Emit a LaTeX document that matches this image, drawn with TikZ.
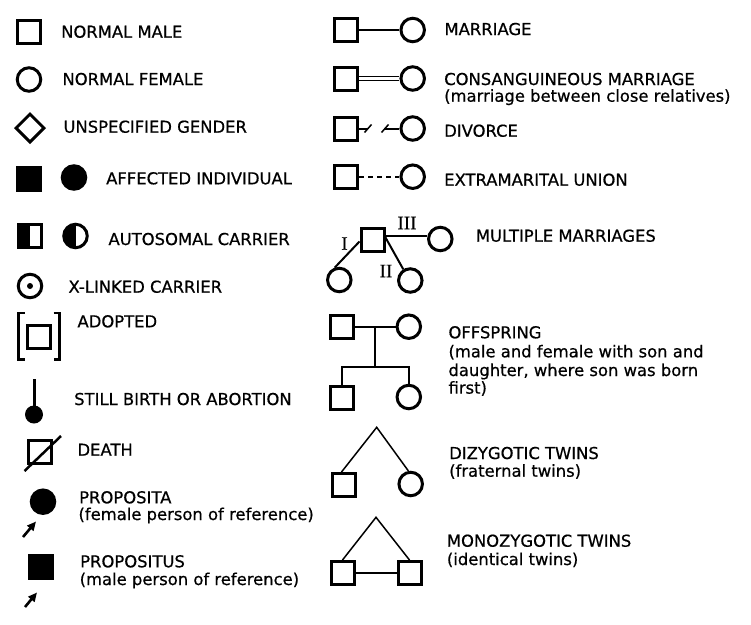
\documentclass[tikz,border=0pt]{standalone}
\usepackage{fontspec}
\setmainfont{DejaVu Sans}[FakeBold=0.6]
\newfontfamily\romanfont{Liberation Serif}[FakeBold=0.4]
\usetikzlibrary{shapes.geometric,arrows.meta}
\begin{document}
\begin{tikzpicture}[x=1pt,y=-1pt,
  male/.style={draw, rectangle, minimum size=23pt, inner sep=0pt, line width=3pt},
  female/.style={draw, circle, minimum size=23.5pt, inner sep=0pt, line width=3pt},
  filled/.style={fill=black},
  halffill/.style={path picture={\fill[black] (path picture bounding box.north west) rectangle (path picture bounding box.south);}},
  lbl/.style={anchor=base west, inner sep=0pt, font=\fontsize{16.4pt}{18pt}\selectfont},
  roman/.style={inner sep=0pt, font=\romanfont\fontsize{19pt}{19pt}\selectfont},
  link/.style={line width=2pt},
  twin/.style={line width=1.5pt},
  parr/.style={-{Triangle[length=9pt,width=8pt]}, line width=2.6pt}
]
\useasboundingbox[fill=white] (0,0) rectangle (751,624);

% ---------- left column ----------
\node[male] (nm) at (29,31.5) {};
\node[lbl] (tnm) at (61,37.7) {NORMAL MALE};

\node[female] (nf) at (29,79.5) {};
\node[lbl] (tnf) at (62.3,85) {NORMAL FEMALE};

\node[draw, diamond, minimum width=29pt, minimum height=29pt, inner sep=0pt, line width=3pt] (ug) at (30,128) {};
\node[lbl] (tug) at (63.3,132.7) {UNSPECIFIED GENDER};

\node[male, filled] (am) at (29,178.5) {};
\node[female, filled] (af) at (74,177.5) {};
\node[lbl] (taf) at (106,184.3) {AFFECTED INDIVIDUAL};

\node[male, halffill] (cm) at (29.5,235.5) {};
\node[female, halffill] (cf) at (75.5,236) {};
\node[lbl] (tcf) at (108.3,245) {AUTOSOMAL CARRIER};

\node[female] (xl) at (30,286) {};
\fill (xl.center) circle[radius=3pt];
\node[lbl] (txl) at (68.3,292.7) {X-LINKED CARRIER};

\node[male] (ad) at (39,337) {};
\draw[line width=2.5pt] (24.5,313) -- (18.3,313) -- (18.3,359.5) -- (24.5,359.5);
\draw[line width=2.5pt] (53.5,313) -- (59.5,313) -- (59.5,359.5) -- (53.5,359.5);
\node[lbl] (tad) at (77.3,327.3) {ADOPTED};

\node[circle, fill=black, minimum size=18pt, inner sep=0pt] (sb) at (34,414.5) {};
\coordinate (sbtop) at (34,379);
\draw[line width=3pt] (sbtop) -- (sb.center);
\node[lbl] (tsb) at (74,405) {STILL BIRTH OR ABORTION};

\node[male] (de) at (40,452) {};
\coordinate (de1) at (24.5,471);
\coordinate (de2) at (61,436);
\draw[line width=2.5pt] (de1) -- (de2);
\node[lbl] (tde) at (77.3,455.7) {DEATH};

\node[female, filled] (pa) at (43,501.7) {};
\coordinate (pa1) at (23,537);
\coordinate (pa2) at (36,521.5);
\draw[parr] (pa1) -- (pa2);
\node[lbl] (tpa1) at (79,503.3) {PROPOSITA};
\node[lbl] (tpa2) at (78.3,520) {(female person of reference)};

\node[male, filled] (pu) at (41,566.7) {};
\coordinate (pu1) at (25,607);
\coordinate (pu2) at (37,592.5);
\draw[parr] (pu1) -- (pu2);
\node[lbl] (tpu1) at (80,567.3) {PROPOSITUS};
\node[lbl] (tpu2) at (79.5,585) {(male person of reference)};

% ---------- right column ----------
\node[male] (mam) at (346,30) {};
\node[female] (maf) at (412.7,30) {};
\draw[link] (mam) -- (maf);
\node[lbl] (tma) at (444.3,35) {MARRIAGE};

\node[male] (csm) at (346,78.5) {};
\node[female] (csf) at (412.7,78.5) {};
\draw[double, double distance=2.6pt, line width=1.4pt] (csm) -- (csf);
\node[lbl] (tcs1) at (444,85) {CONSANGUINEOUS MARRIAGE};
\node[lbl] (tcs2) at (444,101.7) {(marriage between close relatives)};

\node[male] (dvm) at (346,128.5) {};
\node[female] (dvf) at (412.7,128.5) {};
\coordinate (dv1) at (368,128.5);
\coordinate (dv2) at (385,128.5);
\draw[link] (dvm) -- (dv1);
\draw[link] (dv2) -- (dvf);
\draw[line width=1.5pt] (364.5,132.5) -- (371.5,124.5);
\draw[line width=1.5pt] (381.5,132.5) -- (388.5,124.5);
\node[lbl] (tdv) at (444,136.7) {DIVORCE};

\node[male] (emm) at (346,176.7) {};
\node[female] (emf) at (412.7,176.7) {};
\draw[link, dash pattern=on 5pt off 4pt] (emm) -- (emf);
\node[lbl] (tem) at (444,185.7) {EXTRAMARITAL UNION};

\node[male] (mm) at (372.5,239.5) {};
\node[female] (mf3) at (440.3,239) {};
\node[female] (mf1) at (339.3,280) {};
\node[female] (mf2) at (410.3,280.5) {};
\draw[link] ([yshift=3.5pt]mm.east) -- (mf3.west |- 0,236);
\draw[link] ([yshift=-2pt]mm.west) -- (mf1.110);
\draw[link] ([yshift=2pt]mm.east) -- (mf2.122);
\node[roman] (r1) at (344.5,243.5) {I};
\node[roman] (r2) at (386,271) {II};
\node[roman] (r3) at (407,223) {III};
\node[lbl] (tmm) at (475.7,241.7) {MULTIPLE MARRIAGES};

\node[male] (ofm) at (341.7,326.7) {};
\node[female] (off) at (408.8,326.7) {};
\node[male] (ofs) at (341.7,397.5) {};
\node[female] (ofd) at (408.8,397) {};
\coordinate (om) at (375,326.7);
\coordinate (ob) at (375,366.7);
\draw[link] (ofm) -- (off);
\draw[link] (om) -- (ob);
\draw[link] (ofs.north) |- (ob) -| (ofd.north);
\node[lbl] (to1) at (448.3,338.3) {OFFSPRING};
\node[lbl] (to2) at (448.3,357.3) {(male and female with son and};
\node[lbl] (to3) at (448.3,376) {daughter, where son was born};
\node[lbl] (to4) at (448.3,393.6) {first)};

\node[male] (dzm) at (343.8,485) {};
\node[female] (dzf) at (410.7,484) {};
\coordinate (dza) at (376.7,427.3);
\draw[twin] (dzm.100) -- (dza) -- (dzf.100);
\node[lbl] (tdz1) at (449,459) {DIZYGOTIC TWINS};
\node[lbl] (tdz2) at (449,476.7) {(fraternal twins)};

\node[male] (mz1) at (342.5,573) {};
\node[male] (mz2) at (409.5,573) {};
\coordinate (mza) at (376,517.3);
\draw[twin] (mz1.north) -- (mza) -- (mz2.north);
\draw[link] (mz1) -- (mz2);
\node[lbl] (tmz1) at (446.7,546.7) {MONOZYGOTIC TWINS};
\node[lbl] (tmz2) at (446.7,565) {(identical twins)};
\end{tikzpicture}
\end{document}
